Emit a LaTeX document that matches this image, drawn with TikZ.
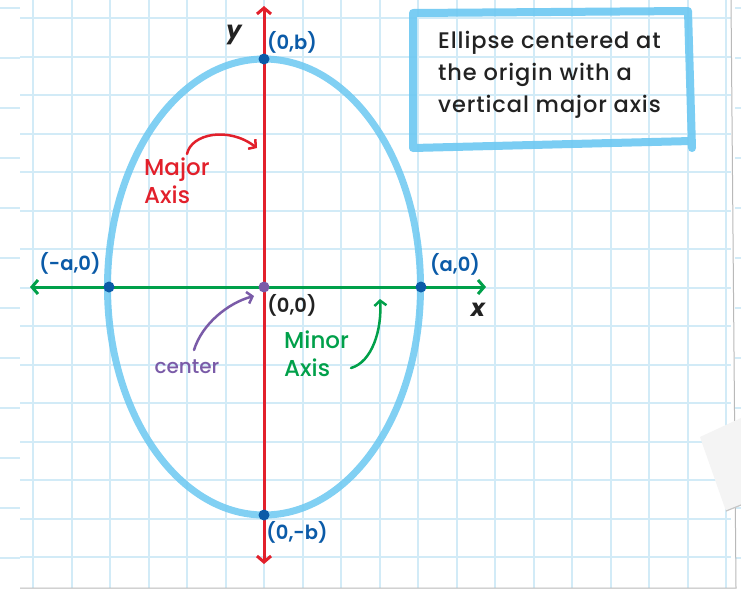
\documentclass[tikz,border=0pt]{standalone}
\usepackage{fontspec}
\setmainfont{Poppins}[UprightFont=* Medium, BoldFont=* SemiBold, ItalicFont=* Medium Italic, BoldItalicFont=* Bold Italic]
\usetikzlibrary{arrows.meta}
\definecolor{gridc}{HTML}{D2EBF7}
\definecolor{ellc}{HTML}{6CC8F2}
\definecolor{redc}{HTML}{E2202B}
\definecolor{greenc}{HTML}{00A04A}
\definecolor{dotc}{HTML}{0B5BA8}
\definecolor{purc}{HTML}{7A5BA8}
\definecolor{inkc}{HTML}{222222}
\begin{document}
\begin{tikzpicture}[x=1pt,y=-1pt,
  gridline/.style={gridc, line width=2pt},
  axisred/.style={redc, line width=3pt, {Straight Barb[length=6pt,width=14pt,line width=3pt]}-{Straight Barb[length=6pt,width=14pt,line width=3pt]}},
  axisgreen/.style={greenc, line width=3pt, {Straight Barb[length=6pt,width=14pt,line width=3pt]}-{Straight Barb[length=6pt,width=14pt,line width=3pt]}},
  pointer/.style={line width=2.5pt, line cap=round, -{Straight Barb[length=5pt,width=12pt,line width=2.5pt]}},
  vdot/.style={circle, fill=dotc, inner sep=0pt, minimum size=11pt},
  lbl/.style={font=\fontsize{19.5}{22}\selectfont\bfseries, text=dotc, inner sep=0pt},
  hand/.style={font=\fontsize{23}{27}\selectfont, inner sep=0pt, align=left},
]
\useasboundingbox (0,0) rectangle (741,590);
\fill[white] (0,0) rectangle (741,590);
% sheet underneath
\foreach \y in {8,58,...,558} {
  \draw[gridline] (0,\y) -- (20,\y);
  \draw[gridline] (735,\y) -- (741,\y);
}
% grid paper
\foreach \i in {0,...,18} \draw[gridline] (33+38.5*\i,0) -- (33+38.5*\i,588);
\foreach \j in {0,...,14} \draw[gridline] (20,18+38.5*\j) -- (731,18+38.5*\j);
\draw[gray!55, line width=1pt] (731,0) -- (736,588) -- (20,588);
% tape
\fill[gray!9] (700,437) -- (741,418) -- (741,505) -- (726,511) -- cycle;
\draw[gray!45, line width=1.2pt] (726,511) -- (741,505);

% ellipse
\draw[ellc, line width=7pt, opacity=0.85] (264,287) ellipse [x radius=156.5pt, y radius=228pt];

% axes
\coordinate (ytop) at (264,6);
\coordinate (ybot) at (264,564);
\coordinate (xleft) at (30,287);
\coordinate (xright) at (486,287);
\draw[axisred] (ybot) -- (ytop);
\draw[axisgreen] (xleft) -- (xright);

% points
\node[vdot] (pb) at (264,59) {};
\node[vdot] (pmb) at (264,515) {};
\node[vdot] (pa) at (421,287) {};
\node[vdot] (pma) at (109,287) {};
\node[vdot, fill=purc] (po) at (264,287) {};

% point labels
\node[lbl] (lb) at (292,42) {(0,b)};
\node[lbl] (lma) at (70,263) {(-a,0)};
\node[lbl] (la) at (455,264) {(a,0)};
\node[lbl, text=inkc] (lo) at (292,305) {(0,0)};
\node[lbl] (lmb) at (297,532) {(0,-b)};
\node[font=\fontsize{24}{24}\selectfont\itshape\bfseries, text=inkc, inner sep=0pt] (ly) at (234,35) {y};
\node[font=\fontsize{24}{24}\selectfont\itshape\bfseries, text=inkc, inner sep=0pt] (lx) at (478,310) {x};

% Major axis
\node[hand, text=redc, anchor=north west] (major) at (144,158) {Major\\[1pt]Axis};
\coordinate (majs) at (187,154);
\coordinate (maje) at (257,148);
\draw[pointer, redc] (majs) .. controls (191,134) and (228,126) .. (maje);

% Minor axis
\node[hand, text=greenc, anchor=north west] (minor) at (284,331) {Minor\\[1pt]Axis};
\coordinate (mins) at (351,368);
\coordinate (mine) at (380,299);
\draw[pointer, greenc] (mins) .. controls (372,362) and (382,330) .. (mine);

% center
\node[hand, text=purc, font=\fontsize{20}{24}\selectfont] (center) at (187,367) {center};
\coordinate (cens) at (194,350);
\coordinate (cene) at (254,296);
\draw[pointer, purc] (cens) .. controls (202,324) and (228,303) .. (cene);

% title box
\draw[ellc, line width=8pt, line join=round, line cap=round, opacity=0.9]
  (413,13) -- (688,11) -- (692,148) (413,13) -- (413,148) -- (691,141);
\node[hand, text=inkc, font=\fontsize{22.5}{32}\selectfont\addfontfeatures{LetterSpace=4}, anchor=north west] (title) at (438,31)
  {Ellipse centered at\\the origin with a\\vertical major axis};
\end{tikzpicture}
\end{document}
